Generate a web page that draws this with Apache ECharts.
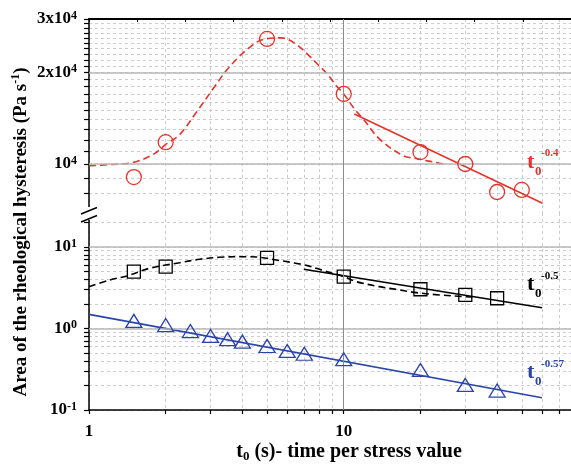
<!DOCTYPE html>
<html><head><meta charset="utf-8">
<script src="https://cdn.jsdelivr.net/npm/echarts@6/dist/echarts.min.js"></script>
<style>html,body{margin:0;padding:0;background:#fff}#c{width:571px;height:465px}</style>
</head><body><div id="c"></div>
<script>
// ---------- data ----------
const redX = [1.5, 2, 5, 10, 20, 30, 40, 50];
const redY = [9060, 11800, 25800, 17000, 10950, 10000, 8090, 8220];
const redCurveX = [1, 1.2, 1.5, 1.8, 2, 2.27, 2.64, 3.1, 3.46, 3.85, 4.27, 4.75, 5.7, 6.5, 7.2, 7.9, 8.6, 9.35, 10, 11, 11.9, 13.8, 17.1, 19.5, 25.3];
const redCurveY = [9870, 9950, 10130, 10800, 11600, 12500, 14800, 17900, 20300, 22400, 24200, 25600, 26000, 24800, 23000, 21300, 19800, 18100, 17000, 15200, 14100, 12100, 10650, 10400, 9950];
const redFitX = [11, 60.3];
const redFitY = [14600, 7430];

const blackX = [1.5, 2, 5, 10, 20, 30, 40];
const blackY = [4.98, 5.73, 7.33, 4.32, 3.03, 2.58, 2.35];
const blackCurveX = [1, 1.21, 1.41, 1.73, 2.27, 2.72, 3.26, 4.15, 4.68, 5.44, 6.33, 7.2, 8.2, 10, 11.2, 13.8, 16.6, 19.3, 23.7, 30.4, 32];
const blackCurveY = [3.26, 3.94, 4.41, 5.48, 6.41, 7.06, 7.48, 7.6, 7.48, 6.92, 6.41, 5.9, 5.2, 4.32, 3.75, 3.26, 2.97, 2.75, 2.58, 2.45, 2.43];
const blackFitX = [6.97, 60.1];
const blackFitY = [5.32, 1.80];

const blueX = [1.5, 2, 2.5, 3, 3.5, 4, 5, 6, 7, 10, 20, 30, 40];
const blueY = [1.24, 1.10, 0.93, 0.81, 0.74, 0.69, 0.61, 0.53, 0.49, 0.42, 0.31, 0.203, 0.173];
const blueFitX = [1, 60];
const blueFitY = [1.49, 0.1416];

const xTickVals = [1, 2, 3, 4, 5, 6, 7, 8, 9, 10, 20, 30, 40, 50, 60, 70];
const xLabelVals = [1, 10];
const upperTickVals = [8000, 9000, 10000, 11000, 12000, 13000, 14000, 15000, 16000, 17000, 18000, 19000, 20000, 21000, 22000, 23000, 24000, 25000, 26000, 27000, 28000, 29000, 30000];
const upperLabelVals = [10000, 20000, 30000];
const upperMajorVals = [10000, 20000];
const lowerTickVals = [0.1, 0.2, 0.3, 0.4, 0.5, 0.6, 0.7, 0.8, 0.9, 1, 2, 3, 4, 5, 6, 7, 8, 9, 10, 20];
const lowerLabelVals = [0.1, 1, 10];
const lowerMajorVals = [1, 10];
const xMajorVals = [10];

const xTitle = ['t', '0', ' (s)- time per stress value'];
const yTitle = ['Area of the rheological hysteresis (Pa s', '-1', ')'];
const fitLabels = [
  {base: 't', sub: '0', exp: '-0.4'},
  {base: 't', sub: '0', exp: '-0.5'},
  {base: 't', sub: '0', exp: '-0.57'}
];

// ---------- styles ----------
const RED = '#e2342c', BLUE = '#2b44a8', BLACK = '#000000';
const FONT = '"Liberation Serif", "Times New Roman", serif';
const pairs = (xs, ys) => xs.map((x, i) => [x, ys[i]]);
const dashGrid = {show: true, lineStyle: {color: '#cccccc', width: 1, type: [3, 3]}};
const labelRich = {
  b: {fontFamily: FONT, fontWeight: 'bold', fontSize: 17, color: '#000'},
  s: {fontFamily: FONT, fontWeight: 'bold', fontSize: 12, color: '#000', padding: [0, 0, 7, 0]}
};

function majorLines(xIdx, yIdx, yVals) {
  return {
    type: 'line', xAxisIndex: xIdx, yAxisIndex: yIdx, data: [], silent: true, z: 1,
    markLine: {
      silent: true, symbol: 'none', animation: false, label: {show: false},
      lineStyle: {color: '#b8b8b8', width: 1.5, type: 'solid'},
      data: yVals.map(v => ({yAxis: v})).concat(xMajorVals.map(v => ({xAxis: v, lineStyle: {color: '#8c8c8c', width: 1, type: 'solid'}})))
    }
  };
}
function curve(xIdx, yIdx, xs, ys, color, dashed, smooth) {
  return {
    type: 'line', xAxisIndex: xIdx, yAxisIndex: yIdx, data: pairs(xs, ys), symbol: 'none', showSymbol: false,
    smooth: smooth, silent: true, z: 3,
    lineStyle: {color: color, width: 1.6, type: dashed ? [7, 4] : 'solid'}
  };
}
function marks(xIdx, yIdx, xs, ys, color, symbol, size) {
  return {
    type: 'scatter', xAxisIndex: xIdx, yAxisIndex: yIdx, data: pairs(xs, ys), symbol: symbol, symbolSize: size,
    silent: true, z: 5,
    itemStyle: {color: 'rgba(255,255,255,0)', borderColor: color, borderWidth: 1.3, opacity: 1}
  };
}

const chart = echarts.init(document.getElementById('c'), null, {renderer: 'canvas'});
const tText = (x, y, txt, size, color) => ({
  type: 'text', x: x, y: y, z: 100, silent: true,
  style: {text: txt, fontFamily: FONT, fontWeight: 'bold', fontSize: size, fill: color, align: 'left', verticalAlign: 'middle'}
});
const labelColors = [RED, BLACK, BLUE];
const labelY = [162, 284.5, 372.5];
const fitGraphics = [];
fitLabels.forEach((l, i) => {
  fitGraphics.push(tText(527, labelY[i], l.base, 22, labelColors[i]));
  fitGraphics.push(tText(535, labelY[i] + 9.5, l.sub, 13, labelColors[i]));
  fitGraphics.push(tText(541, labelY[i] - 8.5, l.exp, 11, labelColors[i]));
});

chart.setOption({
  animation: false,
  backgroundColor: '#fff',
  grid: [
    {left: 89, right: 0, top: 19, height: 194, containLabel: false, outerBoundsMode: 'none'},
    {left: 89, right: 0, top: 213, height: 197, containLabel: false, outerBoundsMode: 'none'}
  ],
  xAxis: [
    {gridIndex: 0, type: 'log', logBase: 10, min: 1, max: 78,
      axisLine: {show: false, onZero: false}, axisTick: {show: false, customValues: xTickVals},
      axisLabel: {show: false}, splitLine: dashGrid},
    {gridIndex: 1, type: 'log', logBase: 10, min: 1, max: 78,
      axisLine: {show: true, onZero: false, lineStyle: {color: '#000', width: 1.5}},
      axisTick: {show: true, inside: false, length: 4, customValues: xTickVals, lineStyle: {color: '#000', width: 1.2}},
      axisLabel: {show: true, customValues: xLabelVals, margin: 13, showMinLabel: true, showMaxLabel: true,
        formatter: v => '{b|' + Math.round(v) + '}', rich: labelRich},
      splitLine: dashGrid},
    {gridIndex: 0, type: 'value', position: 'top', min: 0, max: 10, interval: 1,
      axisLine: {show: true, onZero: false, lineStyle: {color: '#000', width: 2}},
      axisTick: {show: true, inside: true, length: 3, lineStyle: {color: '#000', width: 1}},
      axisLabel: {show: false}, splitLine: {show: false}}
  ],
  yAxis: [
    {gridIndex: 0, type: 'log', logBase: 10, min: 6900, max: 30000.01,
      axisLine: {show: true, onZero: false, lineStyle: {color: '#000', width: 1.5}},
      axisTick: {show: true, inside: false, length: 5, customValues: upperTickVals, lineStyle: {color: '#000', width: 1.2}},
      axisLabel: {show: true, customValues: upperLabelVals, margin: 12, showMinLabel: true, showMaxLabel: true,
        formatter: v => { const m = Math.round(v / 10000); return m === 1 ? '{b|10}{s|4}' : '{b|' + m + 'x10}{s|4}'; },
        rich: labelRich},
      splitLine: dashGrid},
    {gridIndex: 1, type: 'log', logBase: 10, min: 0.09999, max: 26.1,
      axisLine: {show: true, onZero: false, lineStyle: {color: '#000', width: 1.5}},
      axisTick: {show: true, inside: false, length: 5, customValues: lowerTickVals, lineStyle: {color: '#000', width: 1.2}},
      axisLabel: {show: true, customValues: lowerLabelVals, margin: 12, showMinLabel: true, showMaxLabel: true,
        formatter: v => '{b|10}{s|' + Math.round(Math.log10(v)) + '}', rich: labelRich},
      splitLine: dashGrid}
  ],
  series: [
    majorLines(0, 0, upperMajorVals),
    curve(0, 0, redCurveX, redCurveY, RED, true, 0.35),
    curve(0, 0, redFitX, redFitY, RED, false, false),
    marks(0, 0, redX, redY, RED, 'circle', 15),
    majorLines(1, 1, lowerMajorVals),
    curve(1, 1, blackCurveX, blackCurveY, BLACK, true, 0.35),
    curve(1, 1, blackFitX, blackFitY, BLACK, false, false),
    marks(1, 1, blackX, blackY, BLACK, 'rect', 13),
    curve(1, 1, blueFitX, blueFitY, BLUE, false, false),
    marks(1, 1, blueX, blueY, BLUE, 'triangle', [16, 13])
  ],
  graphic: [
    {type: 'rect', z: 100, silent: true, shape: {x: 83, y: 207, width: 10, height: 13}, style: {fill: '#fff'}},
    {type: 'line', z: 101, silent: true, shape: {x1: 81, y1: 214, x2: 97, y2: 207.5}, style: {stroke: '#000', lineWidth: 1.5}},
    {type: 'line', z: 101, silent: true, shape: {x1: 81, y1: 222, x2: 97, y2: 215.5}, style: {stroke: '#000', lineWidth: 1.5}},
    {type: 'text', z: 100, silent: true, x: 349, y: 452,
      style: {text: '{a|' + xTitle[0] + '}{sub|' + xTitle[1] + '}{a|' + xTitle[2] + '}', align: 'center', verticalAlign: 'middle',
        rich: {
          a: {fontFamily: FONT, fontWeight: 'bold', fontSize: 20, fill: '#000'},
          sub: {fontFamily: FONT, fontWeight: 'bold', fontSize: 13, fill: '#000', padding: [10, 0, 0, 0]}
        }}},
    {type: 'text', z: 100, silent: true, x: 21, y: 232, rotation: Math.PI / 2,
      style: {text: '{a|' + yTitle[0] + '}{s|' + yTitle[1] + '}{a|' + yTitle[2] + '}', align: 'center', verticalAlign: 'middle',
        rich: {
          a: {fontFamily: FONT, fontWeight: 'bold', fontSize: 19, fill: '#000'},
          s: {fontFamily: FONT, fontWeight: 'bold', fontSize: 12, fill: '#000', padding: [0, 0, 10, 0]}
        }}}
  ].concat(fitGraphics)
});
</script>
</body></html>
